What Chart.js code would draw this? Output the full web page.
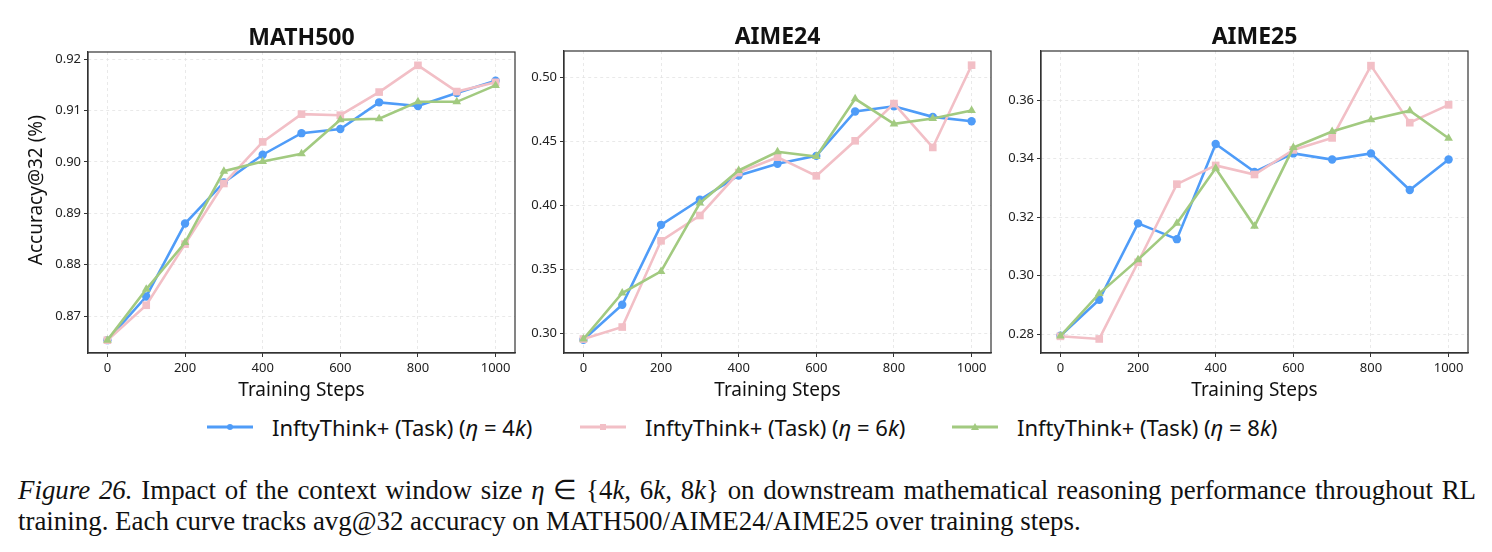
<!DOCTYPE html>
<html><head><meta charset="utf-8">
<script src="https://cdn.jsdelivr.net/npm/chart.js@4.4.1/dist/chart.umd.min.js"></script>
<style>
html,body{margin:0;padding:0;background:#fff;}
body{width:1492px;height:552px;overflow:hidden;position:relative;font-family:'Noto Sans',sans-serif;}
.pane{position:absolute;top:0;height:405px;}
.pane canvas{display:block;}
.item{position:absolute;top:410px;height:34px;display:flex;align-items:center;font-size:22px;color:#111;white-space:nowrap;}
.item svg{margin-right:19px;}
.cap{position:absolute;left:18px;font-family:'Liberation Serif',serif;font-size:26.9px;line-height:30px;color:#111;white-space:nowrap;}
.i{font-style:italic;}
</style>
</head><body>
<div class="pane" id="p0"><canvas id="c0"></canvas></div>
<div class="pane" id="p1"><canvas id="c1"></canvas></div>
<div class="pane" id="p2"><canvas id="c2"></canvas></div>

<div class="item" style="left:207px"><svg width="46" height="12"><line x1="0" y1="6" x2="46" y2="6" stroke="#4f9cf8" stroke-width="3"/><circle cx="23" cy="6" r="3" fill="#4f9cf8"/></svg><span>InftyThink+ (Task) (<span class="i">η</span> = 4<span class="i">k</span>)</span></div>
<div class="item" style="left:580px"><svg width="46" height="12"><line x1="0" y1="6" x2="46" y2="6" stroke="#f2bfc6" stroke-width="3"/><rect x="20" y="3" width="6" height="6" fill="#f2bfc6"/></svg><span>InftyThink+ (Task) (<span class="i">η</span> = 6<span class="i">k</span>)</span></div>
<div class="item" style="left:952px"><svg width="46" height="12"><line x1="0" y1="6" x2="46" y2="6" stroke="#a2ca80" stroke-width="3"/><polygon points="23,2 27,9 19,9" fill="#a2ca80"/></svg><span>InftyThink+ (Task) (<span class="i">η</span> = 8<span class="i">k</span>)</span></div>

<div class="cap" style="top:475px;width:1458px;text-align:justify;text-align-last:justify;white-space:normal;"><span class="i">Figure 26.</span> Impact of the context window size <span class="i">η</span> ∈ {4<span class="i">k</span>, 6<span class="i">k</span>, 8<span class="i">k</span>} on downstream mathematical reasoning performance throughout RL</div>
<div class="cap" style="top:506px;">training. Each curve tracks avg@32 accuracy on MATH500/AIME24/AIME25 over training steps.</div>

<script>
// ---------- data ----------
const steps = [0, 100, 200, 300, 400, 500, 600, 700, 800, 900, 1000];
const xTicks = [0, 200, 400, 600, 800, 1000];
const seriesNames = ['InftyThink+ (Task) (η = 4k)', 'InftyThink+ (Task) (η = 6k)', 'InftyThink+ (Task) (η = 8k)'];
const panelTitles = ['MATH500', 'AIME24', 'AIME25'];

const math500_4k = [0.8653, 0.8738, 0.8880, 0.8960, 0.9014, 0.9056, 0.9064, 0.9116, 0.9109, 0.9134, 0.9158];
const math500_6k = [0.8653, 0.8721, 0.8840, 0.8958, 0.9039, 0.9093, 0.9091, 0.9136, 0.9188, 0.9137, 0.9155];
const math500_8k = [0.8653, 0.8752, 0.8843, 0.8982, 0.9001, 0.9016, 0.9082, 0.9084, 0.9117, 0.9117, 0.9149];

const aime24_4k = [0.2948, 0.3221, 0.3846, 0.4042, 0.4232, 0.4323, 0.4385, 0.4732, 0.4773, 0.4690, 0.4656];
const aime24_6k = [0.2953, 0.3047, 0.3721, 0.3919, 0.4255, 0.4375, 0.4229, 0.4503, 0.4794, 0.4451, 0.5094];
const aime24_8k = [0.2953, 0.3313, 0.3482, 0.4016, 0.4271, 0.4417, 0.4380, 0.4831, 0.4635, 0.4677, 0.4740];

const aime25_4k = [0.2795, 0.2918, 0.3179, 0.3125, 0.3450, 0.3355, 0.3418, 0.3397, 0.3418, 0.3293, 0.3397];
const aime25_6k = [0.2793, 0.2784, 0.3046, 0.3313, 0.3377, 0.3346, 0.3430, 0.3471, 0.3718, 0.3523, 0.3584];
const aime25_8k = [0.2794, 0.2939, 0.3055, 0.3179, 0.3367, 0.3169, 0.3438, 0.3493, 0.3533, 0.3564, 0.3470];

const yTicks0 = [0.87, 0.88, 0.89, 0.90, 0.91, 0.92];
const yTicks1 = [0.30, 0.35, 0.40, 0.45, 0.50];
const yTicks2 = [0.28, 0.30, 0.32, 0.34, 0.36];

// ---------- styling / layout ----------
const colors = ['#4f9cf8', '#f2bfc6', '#a2ca80'];
const shapes = ['circle', 'rect', 'triangle'];
const radii = [4.2, 5.4, 5];
const FONT = "'Noto Sans', sans-serif";

const panels = [
  {title: panelTitles[0], series: [math500_4k, math500_6k, math500_8k], yTicks: yTicks0, yMin: 0.8628, yMax: 0.9214,
   L: 88, R: 515, top: 52, yw: 88, yTitle: true},
  {title: panelTitles[1], series: [aime24_4k, aime24_6k, aime24_8k], yTicks: yTicks1, yMin: 0.2844, yMax: 0.5205,
   L: 564, R: 991, top: 51, yw: 60, yTitle: false},
  {title: panelTitles[2], series: [aime25_4k, aime25_6k, aime25_8k], yTicks: yTicks2, yMin: 0.2736, yMax: 0.3768,
   L: 1041, R: 1468, top: 51, yw: 60, yTitle: false},
];
const CH = 405, BOTTOM = 353;

const framePlugin = {
  id: 'frame',
  afterDraw(chart) {
    const {ctx, chartArea: a} = chart;
    ctx.save();
    ctx.strokeStyle = '#333';
    ctx.lineWidth = 1.2;
    ctx.strokeRect(a.left, a.top, a.right - a.left, a.bottom - a.top);
    ctx.restore();
  }
};

panels.forEach((p, i) => {
  const pane = document.getElementById('p' + i);
  const W = 2 * p.yw + (p.R - p.L);
  pane.style.left = (p.L - p.yw) + 'px';
  pane.style.width = W + 'px';
  pane.style.height = CH + 'px';
  const datasets = p.series.map((d, k) => ({
    label: seriesNames[k],
    data: d.map((v, j) => ({x: steps[j], y: v})),
    borderColor: colors[k],
    backgroundColor: colors[k],
    borderWidth: 2.6,
    pointStyle: shapes[k],
    pointRadius: radii[k],
    pointHoverRadius: radii[k],
    pointBorderWidth: 0,
    order: 2 - k,
    tension: 0,
  }));
  const titleFontSize = 23;
  const titleLH = titleFontSize * 1.2;
  new Chart(document.getElementById('c' + i), {
    type: 'line',
    data: {datasets},
    options: {
      responsive: true,
      maintainAspectRatio: false,
      animation: false,
      events: [],
      layout: {padding: 0},
      plugins: {
        legend: {display: false},
        tooltip: {enabled: false},
        title: {
          display: true, text: p.title, color: '#111',
          font: {family: FONT, size: titleFontSize, weight: 'bold'},
          padding: {top: p.top - titleLH, bottom: 0}
        }
      },
      scales: {
        x: {
          type: 'linear', min: -50, max: 1050,
          afterFit(s) { s.height = CH - BOTTOM; },
          afterBuildTicks(s) { s.ticks = xTicks.map(v => ({value: v})); },
          ticks: {color: '#222', font: {family: FONT, size: 13}, padding: 3, maxRotation: 0,
                  callback: v => String(v)},
          grid: {color: '#e4e4e4', lineWidth: 0.8, tickLength: 4, tickColor: '#333', tickWidth: 1, drawTicks: true},
          border: {display: true, color: '#333', width: 1.2, dash: [3, 3]},
          title: {display: true, text: 'Training Steps', color: '#111',
                  font: {family: FONT, size: 19}, padding: {top: 0, bottom: 3}}
        },
        y: {
          type: 'linear', min: p.yMin, max: p.yMax,
          afterFit(s) { s.width = p.yw; },
          afterBuildTicks(s) { s.ticks = p.yTicks.map(v => ({value: v})); },
          ticks: {color: '#222', font: {family: FONT, size: 13}, padding: 3,
                  callback: v => v.toFixed(2)},
          grid: {color: '#e4e4e4', lineWidth: 0.8, tickLength: 4, tickColor: '#333', tickWidth: 1, drawTicks: true},
          border: {display: true, color: '#333', width: 1.2, dash: [3, 3]},
          title: {display: p.yTitle, text: '     Accuracy@32 (%)', color: '#111',
                  font: {family: FONT, size: 19}, padding: {top: 25, bottom: 0}}
        },
        yRight: {
          type: 'linear', position: 'right', min: p.yMin, max: p.yMax,
          afterFit(s) { s.width = p.yw; },
          ticks: {display: false},
          grid: {display: false, drawOnChartArea: false},
          border: {display: false}
        }
      }
    },
    plugins: [framePlugin]
  });
});
</script>
</body></html>
